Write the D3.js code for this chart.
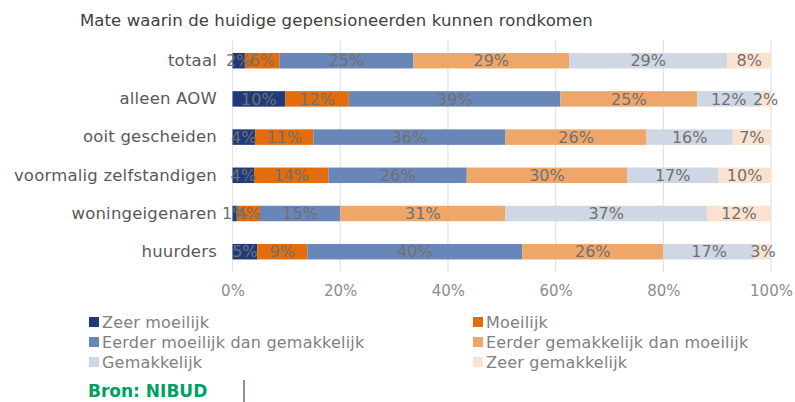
<!DOCTYPE html>
<html>
<head>
<meta charset="utf-8">
<script src="https://cdn.jsdelivr.net/npm/d3@7"></script>
<style>
  html, body { margin: 0; padding: 0; background: #fff; }
  svg { display: block; }
  text { font-family: "DejaVu Sans", "Noto Sans", sans-serif; }
</style>
</head>
<body>
<svg id="chart" width="795" height="402"></svg>
<script>
const title = "Mate waarin de huidige gepensioneerden kunnen rondkomen";
const categories = ["totaal", "alleen AOW", "ooit gescheiden", "voormalig zelfstandigen", "woningeigenaren", "huurders"];
const seriesNames = ["Zeer moeilijk", "Moeilijk", "Eerder moeilijk dan gemakkelijk", "Eerder gemakkelijk dan moeilijk", "Gemakkelijk", "Zeer gemakkelijk"];
const seriesColors = ["#1f3b7b", "#e46c0a", "#6986b8", "#efa769", "#cfd6e4", "#fbe2cf"];
const zeerMoeilijk = [2.3, 9.8, 4.2, 4.0, 0.8, 4.6];
const moeilijk = [6.4, 11.8, 10.8, 13.8, 4.3, 9.3];
const eerderMoeilijk = [24.9, 39.3, 35.7, 25.7, 14.9, 39.9];
const eerderGemakkelijk = [28.9, 25.4, 26.2, 29.8, 30.7, 26.2];
const gemakkelijk = [29.4, 11.7, 16.0, 16.9, 37.4, 17.0];
const zeerGemakkelijk = [8.1, 2.0, 7.1, 9.8, 11.9, 3.0];
const tickValues = [0, 20, 40, 60, 80, 100];
const source = "Bron: NIBUD";

const seriesData = [zeerMoeilijk, moeilijk, eerderMoeilijk, eerderGemakkelijk, gemakkelijk, zeerGemakkelijk];
const rows = categories.map((c, i) => {
  const r = { cat: c };
  seriesNames.forEach((s, j) => r[s] = seriesData[j][i]);
  return r;
});
const stacked = d3.stack().keys(seriesNames)(rows);

const svg = d3.select("#chart");
const x = d3.scaleLinear().domain([0, 100]).range([232.5, 771]);
const y = d3.scaleBand().domain(categories).range([41.6, 270.8]).paddingInner(0.594).paddingOuter(0.297);
const FONT = "'DejaVu Sans', 'Noto Sans', sans-serif";

// title
svg.append("text").attr("x", 80).attr("y", 26)
  .attr("font-size", 16.5).attr("letter-spacing", 0.1).attr("fill", "#404040").text(title);

// gridlines
svg.append("g").selectAll("line").data(tickValues).join("line")
  .attr("x1", d => x(d)).attr("x2", d => x(d))
  .attr("y1", 40).attr("y2", 272)
  .attr("stroke", "#e3e3e3").attr("stroke-width", 1.2);

// bars
const layers = svg.append("g").selectAll("g").data(stacked).join("g")
  .attr("fill", (d, i) => seriesColors[i]);
layers.selectAll("rect").data(d => d).join("rect")
  .attr("x", d => x(d[0])).attr("width", d => x(d[1]) - x(d[0]))
  .attr("y", d => y(d.data.cat)).attr("height", y.bandwidth());

// data labels
const lab = svg.append("g");
stacked.forEach(layer => {
  layer.forEach(d => {
    lab.append("text")
      .attr("x", (x(d[0]) + x(d[1])) / 2)
      .attr("y", y(d.data.cat) + y.bandwidth() / 2)
      .attr("dy", "0.36em")
      .attr("text-anchor", "middle")
      .attr("font-size", 16)
      .attr("fill", "#707070")
      .text(Math.round(d[1] - d[0]) + "%");
  });
});

// category axis
const yAxis = svg.append("g").attr("transform", "translate(217,0)")
  .call(d3.axisLeft(y).tickSize(0).tickPadding(0));
yAxis.select(".domain").remove();
yAxis.selectAll("text").attr("font-size", 16.5).attr("letter-spacing", 0.2).attr("fill", "#595959")
  .attr("font-family", FONT);

// x axis
const xAxis = svg.append("g").attr("transform", "translate(0,285)")
  .call(d3.axisBottom(x).tickValues(tickValues).tickFormat(d => d + "%").tickSize(0).tickPadding(0));
xAxis.select(".domain").remove();
xAxis.selectAll("text").attr("font-size", 15).attr("fill", "#8c8c8c")
  .attr("font-family", FONT);

// legend
const legX = [89, 473];
const legY = [322, 342, 362];
const leg = svg.append("g").selectAll("g").data(seriesNames).join("g")
  .attr("transform", (d, i) => `translate(${legX[i % 2]},${legY[Math.floor(i / 2)]})`);
leg.append("rect").attr("x", 0).attr("y", -5).attr("width", 10).attr("height", 10)
  .attr("fill", (d, i) => seriesColors[i]);
leg.append("text").attr("x", 13).attr("dy", "0.36em")
  .attr("font-size", 16).attr("letter-spacing", 0.2).attr("fill", "#7f7f7f").text(d => d);

// source
svg.append("text").attr("x", 88).attr("y", 397)
  .attr("font-size", 17).attr("font-weight", "bold").attr("fill", "#00a062").text(source);
svg.append("line").attr("x1", 244).attr("x2", 244).attr("y1", 380).attr("y2", 402)
  .attr("stroke", "#3c3c96").attr("stroke-width", 1.2);
</script>
</body>
</html>
